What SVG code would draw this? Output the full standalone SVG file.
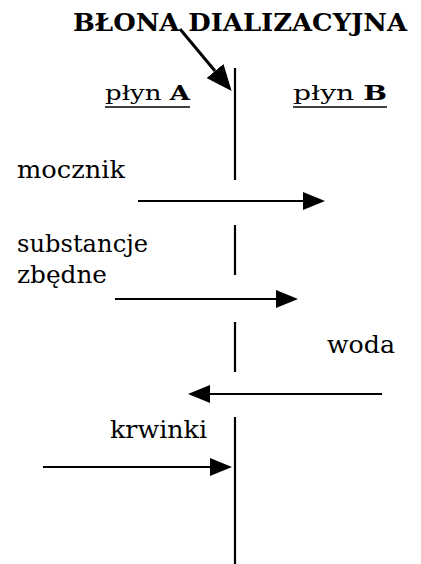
<svg xmlns="http://www.w3.org/2000/svg" width="421" height="564" viewBox="0 0 421 564">
  <style>
    text { font-family: 'DejaVu Serif', 'Liberation Serif', serif; fill: #000; }
    .lbl { font-size: 24px; }
    .title { font-size: 24px; font-weight: bold; }
    .side { font-size: 21px; }
    .b { font-weight: bold; }
    .wire { stroke: #000; stroke-width: 2; fill: none; }
    .pointer { stroke: #000; stroke-width: 3; fill: none; }
    .membrane { stroke: #000; stroke-width: 2.2; fill: none; }
  </style>
  <defs>
    <marker id="head" markerUnits="userSpaceOnUse" markerWidth="22" markerHeight="18" refX="0" refY="9" orient="auto">
      <path d="M0,0 L22,9 L0,18 Z" fill="#000"/>
    </marker>
    <marker id="head-big" markerUnits="userSpaceOnUse" markerWidth="26" markerHeight="22" refX="0" refY="11" orient="auto">
      <path d="M0,0 L26,11 L0,22 Z" fill="#000"/>
    </marker>
  </defs>

  <rect width="421" height="564" fill="#fff"/>

  <!-- membrane and its label -->
  <g id="membrane">
    <text class="title" x="73" y="31" textLength="334" lengthAdjust="spacingAndGlyphs">BŁONA DIALIZACYJNA</text>
    <path class="membrane" d="M235,68 V180 M235,225 V275 M235,322 V372 M235,417 V564"/>
  </g>

  <!-- fluid headings -->
  <g id="fluid-a">
    <text class="side" x="105" y="100" textLength="85" lengthAdjust="spacingAndGlyphs">płyn <tspan class="b">A</tspan></text>
    <line x1="105" y1="107" x2="190" y2="107" stroke="#000" stroke-width="1.5"/>
  </g>
  <g id="fluid-b">
    <text class="side" x="293" y="100" textLength="94" lengthAdjust="spacingAndGlyphs">płyn <tspan class="b">B</tspan></text>
    <line x1="293" y1="107" x2="387" y2="107" stroke="#000" stroke-width="1.5"/>
  </g>

  <!-- substances -->
  <g id="mocznik">
    <text class="lbl" x="17" y="178" textLength="108" lengthAdjust="spacingAndGlyphs">mocznik</text>
  </g>
  <g id="substancje">
    <text class="lbl" x="17" y="252" textLength="131" lengthAdjust="spacingAndGlyphs">substancje</text>
    <text class="lbl" x="17" y="283" textLength="90" lengthAdjust="spacingAndGlyphs">zbędne</text>
  </g>
  <g id="woda">
    <text class="lbl" x="327" y="353" textLength="68" lengthAdjust="spacingAndGlyphs">woda</text>
  </g>
  <g id="krwinki">
    <text class="lbl" x="110" y="438" textLength="97" lengthAdjust="spacingAndGlyphs">krwinki</text>
  </g>

  <!-- transport arrows -->
  <g id="connectors">
    <line class="pointer" x1="180" y1="29" x2="215" y2="71" marker-end="url(#head-big)"/>
    <line class="wire" x1="138" y1="201" x2="303" y2="201" marker-end="url(#head)"/>
    <line class="wire" x1="115" y1="299" x2="276" y2="299" marker-end="url(#head)"/>
    <line class="wire" x1="382" y1="394" x2="210" y2="394" marker-end="url(#head)"/>
    <line class="wire" x1="43" y1="467" x2="210" y2="467" marker-end="url(#head)"/>
  </g>
</svg>
